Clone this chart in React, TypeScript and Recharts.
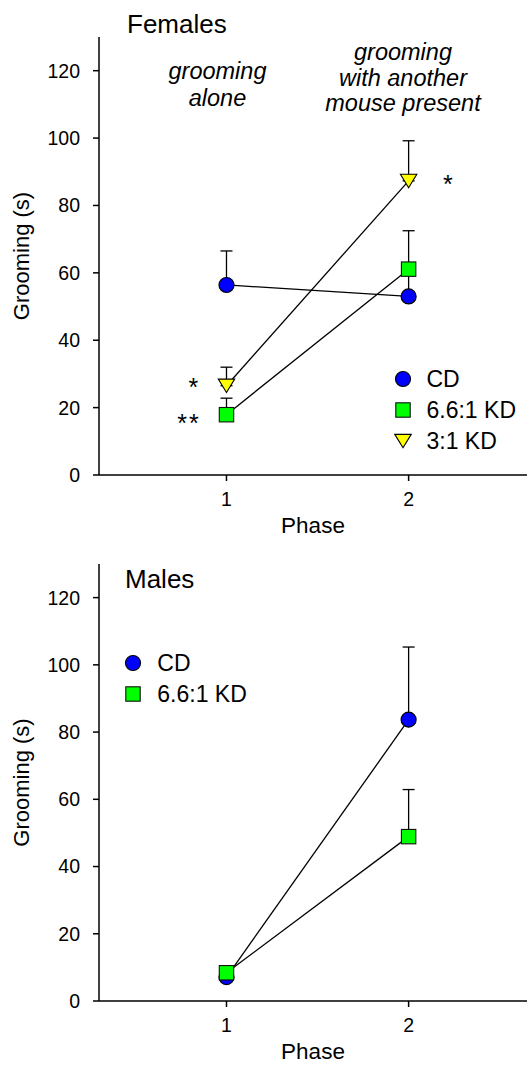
import React from 'react';
import { ComposedChart, Line, Scatter, XAxis, YAxis, ErrorBar, Legend } from 'recharts';

// values (mean, upward SEM)
const phases = [1, 2];
const yTicks = [0, 20, 40, 60, 80, 100, 120];
const xTicks = [1, 2];

const femaleCD = [56.4, 53.0];
const femaleCDSem = [10.1, 8.0];
const female66KD = [17.9, 61.1];
const female66KDSem = [4.9, 11.4];
const female31KD = [26.5, 87.3];
const female31KDSem = [5.5, 11.9];

const maleCD = [7.1, 83.7];
const maleCDSem = [1.0, 21.6];
const male66KD = [8.4, 48.9];
const male66KDSem = [1.0, 14.0];

const seriesOrder = ['cd', 'kd66', 'kd31'];
const seriesNames: Record<string, string> = { cd: 'CD', kd66: '6.6:1 KD', kd31: '3:1 KD' };
const seriesMarker: Record<string, string> = { cd: 'circle', kd66: 'square', kd31: 'triangle' };

const femaleData = phases.map((p, i) => ({
  phase: p,
  cd: femaleCD[i],
  cdErr: [0, femaleCDSem[i]],
  kd66: female66KD[i],
  kd66Err: [0, female66KDSem[i]],
  kd31: female31KD[i],
  kd31Err: [0, female31KDSem[i]],
}));

const maleData = phases.map((p, i) => ({
  phase: p,
  cd: maleCD[i],
  cdErr: [0, maleCDSem[i]],
  kd66: male66KD[i],
  kd66Err: [0, male66KDSem[i]],
}));

const FONT = '"Liberation Sans", Arial, Helvetica, sans-serif';
const X_DOMAIN = [0.3, 2.65];
const Y_DOMAIN = [0, 130];

function marker(kind: string, cx: number, cy: number) {
  if (kind === 'circle') {
    return <circle cx={cx} cy={cy} r={7.5} fill="#0000ff" stroke="#000" strokeWidth={1.2} />;
  }
  if (kind === 'square') {
    return <rect x={cx - 7.2} y={cy - 7.2} width={14.4} height={14.4} fill="#00ff00" stroke="#111" strokeWidth={1.1} />;
  }
  const pts = `${cx - 8.2},${cy - 6.6} ${cx + 8.2},${cy - 6.6} ${cx},${cy + 6.8}`;
  return <polygon points={pts} fill="#ffff00" stroke="#000" strokeWidth={1.1} />;
}

const shapeFor = (kind: string) => (props: any) => marker(kind, props.cx, props.cy);

const renderLegend = (props: any) => {
  const seen = new Set<string>();
  const items = (props.payload || [])
    .filter((e: any) => e.type !== 'none' && seriesMarker[e.dataKey] && !seen.has(e.dataKey) && seen.add(e.dataKey))
    .sort((a: any, b: any) => seriesOrder.indexOf(a.dataKey) - seriesOrder.indexOf(b.dataKey));
  return (
    <div>
      {items.map((entry: any) => (
        <div key={entry.dataKey} style={{ display: 'flex', alignItems: 'center', height: 31 }}>
          <svg width={18} height={18}>{marker(seriesMarker[entry.dataKey], 9, 9)}</svg>
          <span style={{ marginLeft: 15, fontSize: 23, lineHeight: '31px', whiteSpace: 'nowrap', color: '#000', fontFamily: FONT }}>
            {seriesNames[entry.dataKey]}
          </span>
        </div>
      ))}
    </div>
  );
};

const axisCommon = {
  stroke: '#000',
  tickSize: 6,
  axisLine: { stroke: '#000', strokeWidth: 1.5 },
  tickLine: { stroke: '#000', strokeWidth: 1.5 },
};

// axes, connecting lines and error bars
function BasePanel({ data, keys, height, top }: any) {
  return (
    <ComposedChart width={527} height={height} data={data} margin={{ top, right: 0, bottom: 0, left: 0 }}>
      <XAxis
        type="number"
        dataKey="phase"
        domain={X_DOMAIN}
        ticks={xTicks}
        allowDataOverflow
        height={65}
        tickMargin={11}
        tick={{ fill: '#000', fontSize: 19.5, fontFamily: FONT }}
        label={{ value: 'Phase', position: 'insideBottom', offset: 7, fill: '#000', fontSize: 22.5, fontFamily: FONT }}
        {...axisCommon}
      />
      <YAxis
        type="number"
        domain={Y_DOMAIN}
        ticks={yTicks}
        interval={0}
        width={99}
        tickMargin={13}
        tick={{ fill: '#000', fontSize: 19.5, fontFamily: FONT }}
        label={{
          value: 'Grooming (s)',
          angle: -90,
          position: 'insideLeft',
          offset: 21,
          fill: '#000',
          fontSize: 22,
          fontFamily: FONT,
          style: { textAnchor: 'middle' },
        }}
        {...axisCommon}
      />
      {keys.map((k: string) => (
        <Line
          key={`line-${k}`}
          type="linear"
          dataKey={k}
          legendType="none"
          stroke="#000"
          strokeWidth={1.3}
          dot={false}
          activeDot={false}
          isAnimationActive={false}
        >
          {/* width is the half-length of the cap */}
          <ErrorBar dataKey={`${k}Err`} direction="y" width={6} stroke="#000" strokeWidth={1.3} />
        </Line>
      ))}
    </ComposedChart>
  );
}

// symbols and legend, drawn on top so they hide the lower error-bar caps
function MarkerPanel({ data, keys, height, top, legendPos }: any) {
  return (
    <ComposedChart width={527} height={height} data={data} margin={{ top, right: 0, bottom: 0, left: 0 }}>
      <XAxis type="number" dataKey="phase" domain={X_DOMAIN} allowDataOverflow height={65} tick={false} axisLine={false} tickLine={false} />
      <YAxis type="number" domain={Y_DOMAIN} width={99} tick={false} axisLine={false} tickLine={false} />
      <Legend
        layout="vertical"
        align="center"
        verticalAlign="middle"
        content={renderLegend}
        wrapperStyle={{ left: legendPos[0], top: legendPos[1], bottom: 'auto', right: 'auto', width: 'auto' }}
      />
      {keys.map((k: string) => (
        <Scatter
          key={`pts-${k}`}
          dataKey={k}
          name={seriesNames[k]}
          fill="#000"
          shape={shapeFor(seriesMarker[k])}
          isAnimationActive={false}
        />
      ))}
    </ComposedChart>
  );
}

function Panel(props: any) {
  return (
    <div style={{ position: 'relative', width: 527, height: props.height }}>
      <div style={{ position: 'absolute', left: 0, top: 0 }}>
        <BasePanel {...props} />
      </div>
      <div style={{ position: 'absolute', left: 0, top: 0 }}>
        <MarkerPanel {...props} />
      </div>
    </div>
  );
}

const textStyle: React.CSSProperties = { fontFamily: FONT, fill: '#000' };

export default function App() {
  return (
    <div style={{ position: 'absolute', left: 0, top: 0, width: 527, height: 1066, background: '#fff', fontFamily: FONT }}>
      <div style={{ position: 'absolute', left: 0, top: 0, width: 527, height: 540 }}>
        <Panel data={femaleData} keys={['cd', 'kd66', 'kd31']} height={540} top={37} legendPos={[393.5, 363.5]} />
        <svg width={527} height={540} style={{ position: 'absolute', left: 0, top: 0, pointerEvents: 'none' }}>
          <text x={127} y={32.5} fontSize={26} style={textStyle}>Females</text>
          <g fontStyle="italic" fontSize={23.5} textAnchor="middle" style={textStyle}>
            <text x={217.5} y={79}>grooming</text>
            <text x={217.5} y={106}>alone</text>
            <text x={403} y={60}>grooming</text>
            <text x={403} y={85.5}>with another</text>
            <text x={403} y={111}>mouse present</text>
          </g>
          <g fontSize={25} textAnchor="middle" style={textStyle}>
            <text x={193.3} y={396}>*</text>
            <text x={189} y={431.5} letterSpacing={2}>**</text>
            <text x={447.8} y={193}>*</text>
          </g>
        </svg>
      </div>
      <div style={{ position: 'absolute', left: 0, top: 540, width: 527, height: 526 }}>
        <Panel data={maleData} keys={['cd', 'kd66']} height={526} top={24} legendPos={[124.3, 107.8]} />
        <svg width={527} height={526} style={{ position: 'absolute', left: 0, top: 0, pointerEvents: 'none' }}>
          <text x={125} y={48} fontSize={26} style={textStyle}>Males</text>
        </svg>
      </div>
    </div>
  );
}
